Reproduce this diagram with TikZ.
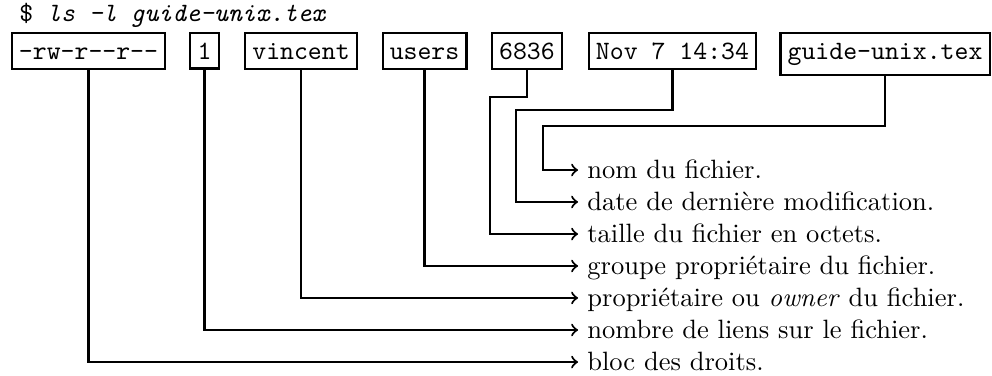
\documentclass[tikz,border=0pt]{standalone}
\usepackage{amssymb,amsmath}
\usepackage{tikz}

\begin{document}
\begin{tikzpicture}[champ/.style={draw, thick, font=\ttfamily, inner xsep=2.7pt, inner ysep=3.6pt, text height=6.2pt, anchor=north},
  legende/.style={anchor=west, text height=8pt, text depth=1.6pt},
  fleche/.style={thick, ->}]
\useasboundingbox (0,0) rectangle (13.158,4.974);
\node [anchor=base west, font=\ttfamily] (commande) at (0.133,4.689) {\$ \textit{ls -l guide-unix.tex}};
% les champs de la ligne
\node [champ] (droits) at (1.174,4.55) {-rw-r-{}-r-{}-};
\node [champ] (liens) at (2.712,4.55) {1};
\node [champ] (proprio) at (3.993,4.55) {vincent};
\node [champ] (groupe) at (5.631,4.55) {users};
\node [champ] (taille) at (6.990,4.55) {6836};
\node [champ] (date) at (8.920,4.55) {Nov 7 14:34};
\node [champ] (nom) at (11.739,4.55) {guide-unix.tex};
% les explications
\node [legende] (lnom) at (7.667,2.719) {nom du fichier.};
\node [legende] (ldate) at (7.667,2.295) {date de derni\`ere modification.};
\node [legende] (ltaille) at (7.667,1.870) {taille du fichier en octets.};
\node [legende] (lgroupe) at (7.667,1.446) {groupe propri\'etaire du fichier.};
\node [legende] (lproprio) at (7.667,1.022) {propri\'etaire ou \emph{owner} du fichier.};
\node [legende] (lliens) at (7.667,0.597) {nombre de liens sur le fichier.};
\node [legende] (ldroits) at (7.667,0.172) {bloc des droits.};
% les fleches
\draw [fleche] (droits.south) |- (ldroits.west);
\draw [fleche] (liens.south) |- (lliens.west);
\draw [fleche] (proprio.south) |- (lproprio.west);
\draw [fleche] (groupe.south) |- (lgroupe.west);
\draw [fleche] (taille.south) |- (6.499,3.687) |- (ltaille.west);
\draw [fleche] (date.south) |- (6.844,3.515) |- (ldate.west);
\draw [fleche] (nom.south) |- (7.202,3.303) |- (lnom.west);
\end{tikzpicture}
\end{document}
